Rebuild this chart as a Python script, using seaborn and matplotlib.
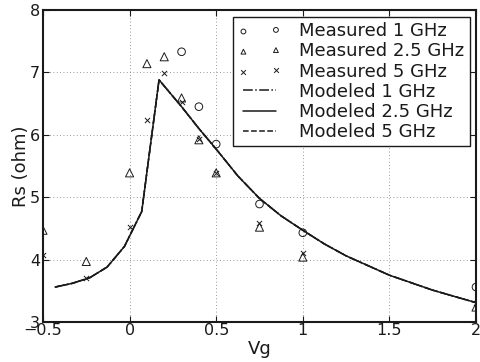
import matplotlib
matplotlib.use("Agg")
import matplotlib.pyplot as plt
import numpy as np
import pandas as pd
import seaborn as sns

sns.set_theme(style="ticks")
plt.rcParams['font.family'] = ['DejaVu Sans']
plt.rcParams['text.color'] = 'k'
plt.rcParams['axes.labelcolor'] = 'k'

# measured data
vg_1g   = [0.3, 0.4, 0.5, 0.75, 1.0, 2.0]
rs_1g   = [7.33, 6.45, 5.85, 4.89, 4.43, 3.56]
vg_meas = [-0.5, -0.25, 0.0, 0.1, 0.2, 0.3, 0.4, 0.5, 0.75, 1.0, 2.0]
rs_25g  = [4.47, 3.97, 5.39, 7.14, 7.25, 6.59, 5.92, 5.39, 4.52, 4.04, 3.24]
rs_5g   = [4.07, 3.71, 4.52, 6.24, 6.99, 6.53, 5.93, 5.38, 4.58, 4.10, 3.30]

# modeled curve (all three frequencies coincide)
vg_mod = [-0.43, -0.33, -0.23, -0.13, -0.03, 0.07, 0.17, 0.3, 0.4, 0.5, 0.625,
          0.75, 0.875, 1.0, 1.125, 1.25, 1.5, 1.75, 2.0]
rs_mod = [3.56, 3.62, 3.71, 3.88, 4.21, 4.77, 6.88, 6.45, 6.10, 5.77, 5.34,
          4.98, 4.70, 4.47, 4.25, 4.06, 3.75, 3.51, 3.31]

fig = plt.figure(figsize=(4.81, 3.62), dpi=100)
ax = fig.add_axes([0.0894, 0.1105, 0.9002, 0.862])

h = []
h.append(sns.scatterplot(x=vg_1g, y=rs_1g, marker='o', s=30, facecolor='none',
                         edgecolor='k', linewidth=0.7, ax=ax, zorder=3).collections[-1])
h.append(sns.scatterplot(x=vg_meas, y=rs_25g, marker='^', s=34, facecolor='none',
                         edgecolor='k', linewidth=0.7, ax=ax, zorder=3).collections[-1])
h.append(sns.scatterplot(x=vg_meas, y=rs_5g, marker='x', s=14, color='k',
                         linewidth=0.7, ax=ax, zorder=3).collections[-1])

mod = pd.DataFrame({"Vg": vg_mod, "Rs": rs_mod})
sns.lineplot(data=mod, x="Vg", y="Rs", color='k', linestyle='-.', linewidth=1.1, ax=ax)
h.append(ax.lines[-1])
sns.lineplot(data=mod, x="Vg", y="Rs", color='k', linestyle='--', linewidth=1.1, ax=ax)
h_dash = ax.lines[-1]
sns.lineplot(data=mod, x="Vg", y="Rs", color='k', linestyle='-', linewidth=1.1, ax=ax)
h.append(ax.lines[-1])
h.append(h_dash)

labels = ['Measured 1 GHz', 'Measured 2.5 GHz', 'Measured 5 GHz',
          'Modeled 1 GHz', 'Modeled 2.5 GHz', 'Modeled 5 GHz']
leg = ax.legend(h, labels, loc='upper right', bbox_to_anchor=(0.986, 0.978),
                fontsize=13, scatterpoints=2, numpoints=2, handlelength=2.4,
                handletextpad=1.0, labelspacing=0.12, borderpad=0.3,
                fancybox=False, framealpha=1, edgecolor='k', borderaxespad=0)
leg.get_frame().set_linewidth(1.0)
for lh in leg.legend_handles[:3]:
    lh.set_sizes([12])

ax.set_xlim(-0.5, 2)
ax.set_ylim(3, 8)
ax.set_xticks([-0.5, 0, 0.5, 1, 1.5, 2])
ax.set_xticklabels(['\u22120.5', '0', '0.5', '1', '1.5', '2'])
ax.set_yticks([3, 4, 5, 6, 7, 8])
ax.grid(True, color='#777777', linestyle=(0, (1, 3)), linewidth=0.6)
ax.tick_params(direction='in', length=4, width=0.8, labelsize=11.5, pad=2,
               top=True, right=True, colors='k')
ax.tick_params(axis='x', pad=1)
for sp in ax.spines.values():
    sp.set_visible(True)
    sp.set_linewidth(1.5)
    sp.set_color('k')
ax.set_xlabel('Vg', fontsize=13, labelpad=1)
ax.set_ylabel('Rs (ohm)', fontsize=13, labelpad=0)

fig.savefig('out.png', dpi=100)
